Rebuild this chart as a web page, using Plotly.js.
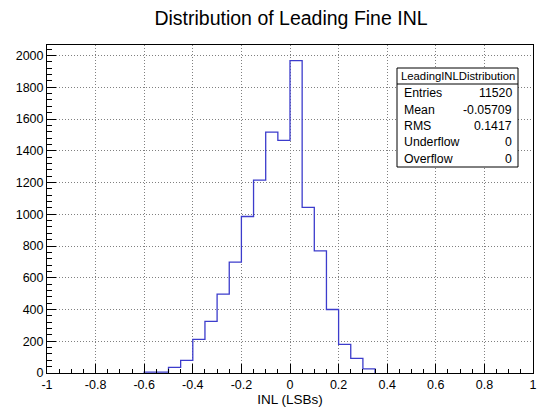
<!DOCTYPE html>
<html>
<head>
<meta charset="utf-8">
<script src="https://cdn.plot.ly/plotly-3.0.1.min.js"></script>
<style>html,body{margin:0;padding:0;background:#fff;}#chart{width:541px;height:407px;}</style>
</head>
<body>
<div id="chart"></div>
<script>
// Histogram data: bins of width 0.05 starting at -0.6
const binStart = -0.6;
const binWidth = 0.05;
const counts = [5, 5, 35, 80, 212, 325, 497, 699, 986, 1215, 1517, 1465, 1968, 1043, 770, 400, 180, 92, 26];

const xTickVals = [-1, -0.8, -0.6, -0.4, -0.2, 0, 0.2, 0.4, 0.6, 0.8, 1];
const xTickText = ["-1", "-0.8", "-0.6", "-0.4", "-0.2", "0", "0.2", "0.4", "0.6", "0.8", "1"];
const yTickVals = [0, 200, 400, 600, 800, 1000, 1200, 1400, 1600, 1800, 2000];

const statsTitle = "LeadingINLDistribution";
const statsLabels = ["Entries", "Mean", "RMS", "Underflow", "Overflow"];
const statsValues = ["11520", "-0.05709", "0.1417", "0", "0"];

// Build step outline
const xs = [binStart], ys = [0];
for (let i = 0; i < counts.length; i++) {
  xs.push(binStart + i * binWidth);
  ys.push(counts[i]);
}
xs.push(binStart + counts.length * binWidth);
ys.push(0);

const W = 541, H = 407;
const L = 47, R = 533, T = 45, B = 373;
const px = x => (x - L) / (R - L);
const py = y => (B - y) / (B - T);

const font = "Liberation Sans, Helvetica, Arial, sans-serif";

const annotations = [];
annotations.push({xref: 'paper', yref: 'paper', x: px(457.5), y: py(76), text: statsTitle, showarrow: false,
  xanchor: 'center', yanchor: 'middle', font: {family: font, size: 11.3, color: '#000'}});
const rowY = [93, 110, 126, 142, 159];
for (let i = 0; i < statsLabels.length; i++) {
  annotations.push({xref: 'paper', yref: 'paper', x: px(402), y: py(rowY[i]), text: statsLabels[i], showarrow: false,
    xanchor: 'left', yanchor: 'middle', font: {family: font, size: 12.3, color: '#000'}});
  annotations.push({xref: 'paper', yref: 'paper', x: px(514), y: py(rowY[i]), text: statsValues[i], showarrow: false,
    xanchor: 'right', yanchor: 'middle', font: {family: font, size: 12.3, color: '#000'}});
}

const shapes = [
  {type: 'rect', xref: 'paper', yref: 'paper', x0: px(397), x1: px(518), y0: py(167), y1: py(68),
   line: {color: '#000', width: 1}, fillcolor: '#fff', layer: 'above'},
  {type: 'line', xref: 'paper', yref: 'paper', x0: px(397), x1: px(518), y0: py(84), y1: py(84),
   line: {color: '#000', width: 1}, layer: 'above'}
];

const trace = {
  x: xs, y: ys, type: 'scatter', mode: 'lines',
  line: {shape: 'hv', color: '#3c3ccc', width: 1.3},
  hoverinfo: 'skip'
};

const gridDash = '1px,2px';

const layout = {
  width: W, height: H,
  margin: {l: L, r: W - R, t: T, b: H - B},
  paper_bgcolor: '#fff', plot_bgcolor: '#fff',
  showlegend: false,
  title: {text: 'Distribution of Leading Fine INL', x: 291 / W, xanchor: 'center', y: 1 - 18 / H, yanchor: 'middle',
          font: {family: font, size: 19.5, color: '#000'}},
  xaxis: {
    range: [-1, 1], tickmode: 'array', tickvals: xTickVals, ticktext: xTickText,
    ticks: 'inside', ticklen: 9, tickwidth: 1, tickcolor: '#000',
    minor: {dtick: 0.05, ticks: 'inside', ticklen: 4.5, tickcolor: '#000', showgrid: false},
    showgrid: true, gridcolor: '#808080', griddash: gridDash, gridwidth: 1,
    showline: true, linecolor: '#000', linewidth: 1, mirror: true,
    zeroline: false,
    tickfont: {family: font, size: 12.5, color: '#000'},
    title: {text: 'INL (LSBs)', font: {family: font, size: 13.5, color: '#000'}, standoff: 4}
  },
  yaxis: {
    range: [0, 2066.4], tickmode: 'array', tickvals: yTickVals,
    ticks: 'inside', ticklen: 9, tickwidth: 1, tickcolor: '#000',
    minor: {dtick: 40, ticks: 'inside', ticklen: 4.5, tickcolor: '#000', showgrid: false},
    showgrid: true, gridcolor: '#808080', griddash: gridDash, gridwidth: 1,
    showline: true, linecolor: '#000', linewidth: 1, mirror: true,
    zeroline: false,
    tickfont: {family: font, size: 12.5, color: '#000'}
  },
  shapes: shapes,
  annotations: annotations
};

Plotly.newPlot('chart', [trace], layout, {staticPlot: true, displayModeBar: false});
</script>
</body>
</html>
